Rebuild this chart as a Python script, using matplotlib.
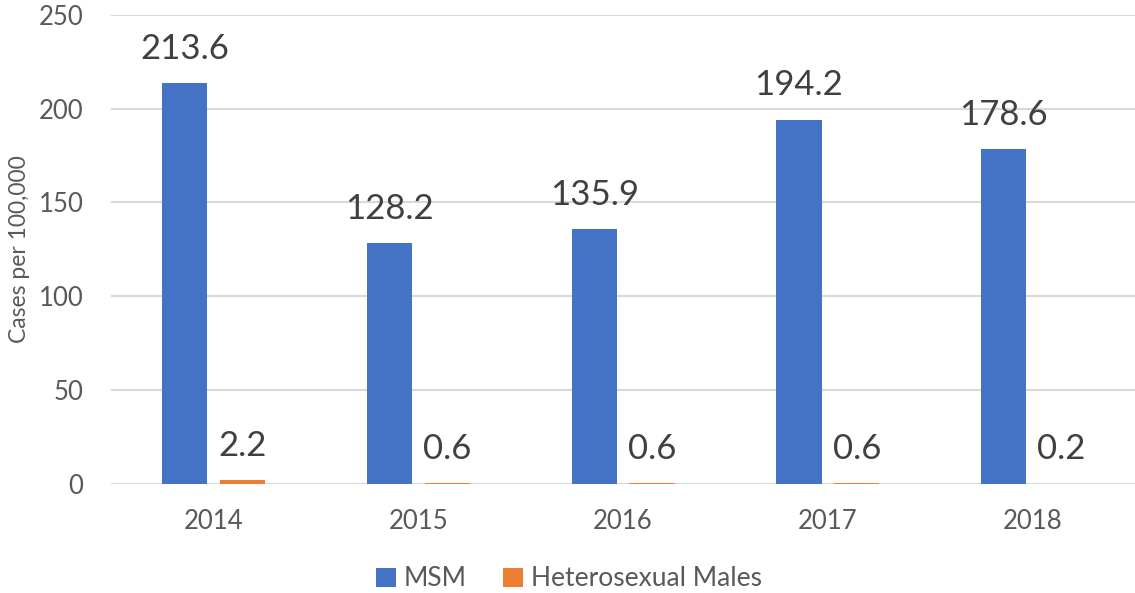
import matplotlib
matplotlib.use("Agg")
from matplotlib import pyplot as plt
import numpy as np

# Rates of cases per 100,000 by year
years = ['2014', '2015', '2016', '2017', '2018']
msm = [213.6, 128.2, 135.9, 194.2, 178.6]
het_males = [2.2, 0.6, 0.6, 0.6, 0.2]

plt.rcParams['font.family'] = ['Lato', 'DejaVu Sans']

fig = plt.figure(figsize=(11.35, 5.93), dpi=100)
ax = fig.add_axes([0.098, 0.184, 0.902, 0.791])

x = np.arange(len(years))
width = 0.22
offset = 0.141
bars1 = ax.bar(x - offset, msm, width, color='#4472c4', label='MSM', zorder=3)
bars2 = ax.bar(x + offset, het_males, width, color='#ed7d31', label='Heterosexual Males', zorder=3)

for bars, vals in [(bars1, msm), (bars2, het_males)]:
    for b, v in zip(bars, vals):
        ax.annotate(f'{v}', (b.get_x() + b.get_width() / 2, v),
                    xytext=(0, 13), textcoords='offset points',
                    ha='center', va='bottom', fontsize=25, color='#404040')

ax.set_xlim(-0.5, len(years) - 0.5)
ax.set_ylim(0, 250)
ax.set_yticks([0, 50, 100, 150, 200, 250])
ax.set_xticks(x)
ax.set_xticklabels(years)
ax.tick_params(axis='both', length=0, labelsize=18.5, colors='#595959')
ax.tick_params(axis='x', pad=18)
ax.tick_params(axis='y', pad=20)
ax.grid(axis='y', color='#d9d9d9', linewidth=1.5, zorder=0)
for s in ax.spines.values():
    s.set_visible(False)
ax.set_ylabel('Cases per 100,000', fontsize=16.5, color='#595959', labelpad=6)

fig.legend(loc='center', bbox_to_anchor=(569 / 1135, 1 - 579 / 593), ncol=2,
           frameon=False, fontsize=19, handlelength=0.75, handleheight=0.75,
           handletextpad=0.3, columnspacing=1.4, labelcolor='#595959')

fig.savefig('out.png', dpi=100)
